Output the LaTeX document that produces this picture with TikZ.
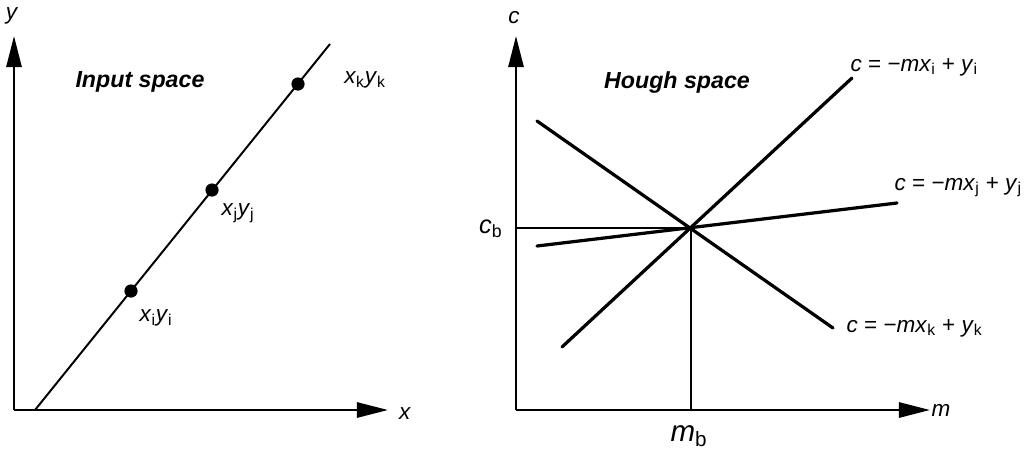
\documentclass[tikz,border=0pt]{standalone}
\usepackage{fontspec}
\setmainfont{Liberation Sans}
\usetikzlibrary{arrows.meta}

\newcommand{\sv}[2]{\textit{#1}\textsubscript{#2}}

\begin{document}
\begin{tikzpicture}[x=0.025cm, y=-0.025cm,
    axis/.style={line width=1.8pt, -{Triangle[length=0.78cm, width=0.38cm]}},
    inl/.style={line width=1.4pt},
    hl/.style={line width=2.3pt, line cap=round},
    guide/.style={line width=0.8pt},
    pt/.style={circle, fill=black, inner sep=0pt, minimum size=0.33cm},
    lbl/.style={font=\fontsize{16}{18}\selectfont, inner sep=1pt},
    ttl/.style={font=\fontsize{16.5}{18}\selectfont\bfseries\itshape}
]
\useasboundingbox (0,0) rectangle (1026,456);

% input space
\coordinate (o1) at (14,410);
\coordinate (ytip) at (14,36);
\coordinate (xtip) at (388,410);
\draw[axis] (o1) -- (ytip);
\draw[axis] (o1) -- (xtip);
\node[lbl] (ylab) at (12,16) {\textit{y}};
\node[lbl] (xlab) at (405,414) {\textit{x}};
\node[ttl] (inp) at (140,82) {Input space};

\coordinate (l0) at (35,410);
\coordinate (l1) at (330,44);
\draw[inl] (l0) -- (l1);
\node[pt] (pi) at (131,291) {};
\node[pt] (pj) at (212,190) {};
\node[pt] (pk) at (298,84) {};
\node[lbl] (ti) at (156,318) {\sv{x}{i}\sv{y}{i}};
\node[lbl] (tj) at (238,213) {\sv{x}{j}\sv{y}{j}};
\node[lbl] (tk) at (365,80) {\sv{x}{k}\sv{y}{k}};

% hough space
\coordinate (o2) at (516,410);
\coordinate (ctip) at (516,36);
\coordinate (mtip) at (930,410);
\draw[axis] (o2) -- (ctip);
\draw[axis] (o2) -- (mtip);
\node[lbl] (clab) at (514,18) {\textit{c}};
\node[lbl, anchor=west] (mlab) at (930,410) {\textit{m}};
\node[ttl] (hou) at (677,82) {Hough space};

\coordinate (b) at (691,228);
\coordinate (cb) at (516,228);
\coordinate (mb) at (691,410);
\draw[guide] (cb) -- (b) -- (mb);
\node[lbl, anchor=east, font=\fontsize{18}{20}\selectfont] (cbl) at (504,229) {\sv{c}{b}};
\node[lbl, font=\fontsize{21}{24}\selectfont] (mbl) at (689,436) {\sv{m}{b}};

\coordinate (i0) at (562,347);
\coordinate (i1) at (852,78);
\coordinate (j0) at (537,246);
\coordinate (j1) at (897,203);
\coordinate (k0) at (537,121);
\coordinate (k1) at (833,328);
\draw[hl] (i0) -- (i1);
\draw[hl] (j0) -- (j1);
\draw[hl] (k0) -- (k1);
\node[lbl, anchor=west] (ei) at (849,67) {\textit{c} = −\sv{mx}{i} + \sv{y}{i}};
\node[lbl, anchor=west] (ej) at (893,187) {\textit{c} = −\sv{mx}{j} + \sv{y}{j}};
\node[lbl, anchor=west] (ek) at (845,328) {\textit{c} = −\sv{mx}{k} + \sv{y}{k}};
\end{tikzpicture}
\end{document}
